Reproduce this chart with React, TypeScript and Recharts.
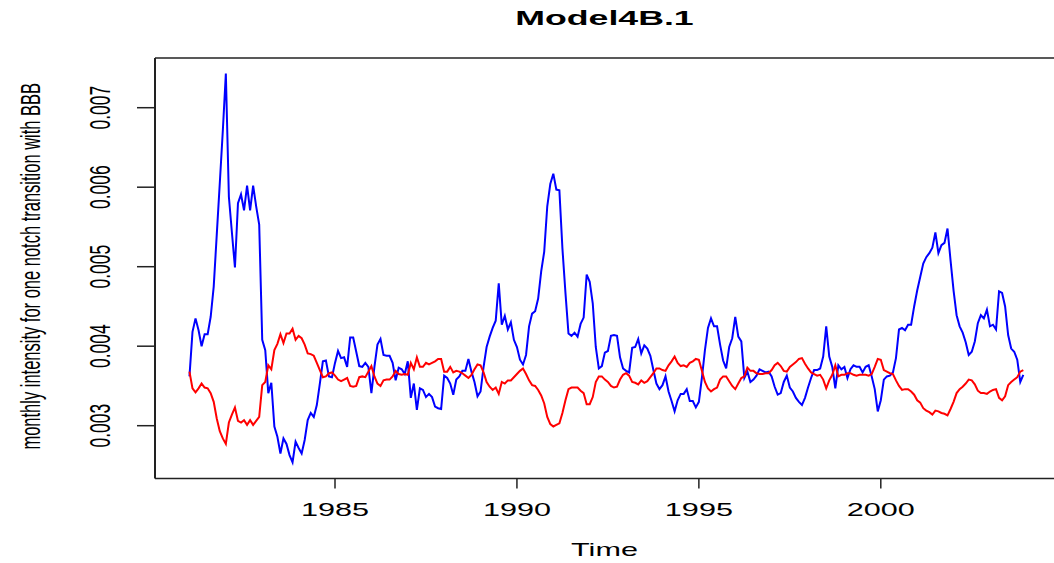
import React from "react";
import { LineChart, Line, XAxis, YAxis, Label } from "recharts";

// Monthly series, Jan 1981 .. Dec 2003 (values in units of 0.001)
const startYear = 1981;
const blueSeries = [
  3.62, 4.18, 4.35, 4.20, 4.00, 4.15, 4.15, 4.37, 4.75, 5.40, 6.05, 6.71,
  7.43, 5.88, 5.43, 4.99, 5.80, 5.91, 5.71, 6.02, 5.71, 6.02, 5.76, 5.53,
  4.08, 3.95, 3.41, 3.54, 2.99, 2.86, 2.65, 2.84, 2.77, 2.63, 2.54, 2.80,
  2.72, 2.65, 2.82, 3.07, 3.16, 3.11, 3.26, 3.53, 3.81, 3.82, 3.62, 3.61,
  3.79, 3.94, 3.85, 3.86, 3.74, 4.11, 4.11, 3.93, 3.75, 3.74, 3.79, 3.74,
  3.41, 3.74, 4.02, 4.09, 3.89, 3.88, 3.88, 3.79, 3.57, 3.73, 3.71, 3.65,
  3.81, 3.35, 3.53, 3.20, 3.47, 3.45, 3.36, 3.40, 3.36, 3.24, 3.22, 3.21,
  3.63, 3.60, 3.53, 3.39, 3.58, 3.62, 3.69, 3.69, 3.84, 3.68, 3.55, 3.37,
  3.43, 3.74, 3.99, 4.12, 4.23, 4.32, 4.79, 4.27, 4.38, 4.21, 4.30, 4.08,
  3.99, 3.83, 3.77, 3.89, 4.25, 4.41, 4.44, 4.60, 4.94, 5.19, 5.76, 6.04,
  6.17, 5.97, 5.96, 5.23, 4.67, 4.16, 4.13, 4.17, 4.12, 4.28, 4.36, 4.90,
  4.81, 4.54, 3.99, 3.72, 3.75, 3.92, 3.94, 4.13, 4.14, 4.13, 3.86, 3.72,
  3.69, 3.67, 3.98, 3.99, 4.09, 3.91, 4.01, 3.97, 3.88, 3.70, 3.53, 3.46,
  3.51, 3.62, 3.43, 3.31, 3.18, 3.32, 3.40, 3.40, 3.46, 3.31, 3.31, 3.23,
  3.30, 3.60, 3.95, 4.23, 4.35, 4.25, 4.25, 4.02, 3.82, 3.72, 3.99, 4.10,
  4.37, 4.12, 4.06, 3.60, 3.68, 3.55, 3.58, 3.63, 3.71, 3.69, 3.67, 3.68,
  3.62, 3.49, 3.39, 3.41, 3.55, 3.63, 3.48, 3.43, 3.35, 3.30, 3.26, 3.35,
  3.48, 3.60, 3.70, 3.70, 3.72, 3.87, 4.25, 3.87, 3.74, 3.47, 3.76, 3.71,
  3.74, 3.60, 3.71, 3.76, 3.74, 3.74, 3.67, 3.74, 3.76, 3.62, 3.46, 3.18,
  3.32, 3.58, 3.62, 3.63, 3.67, 3.85, 4.21, 4.23, 4.20, 4.27, 4.27, 4.50,
  4.70, 4.87, 5.04, 5.12, 5.17, 5.24, 5.43, 5.17, 5.27, 5.30, 5.48, 5.08,
  4.70, 4.39, 4.25, 4.17, 4.05, 3.89, 3.93, 4.06, 4.29, 4.39, 4.35, 4.46,
  4.25, 4.27, 4.21, 4.69, 4.67, 4.50, 4.14, 3.97, 3.93, 3.83, 3.55, 3.64,
];
const redSeries = [
  3.68, 3.47, 3.42, 3.47, 3.53, 3.48, 3.47, 3.41, 3.30, 3.09, 2.93, 2.84,
  2.77, 3.04, 3.14, 3.23, 3.06, 3.04, 3.07, 3.01, 3.07, 3.01, 3.06, 3.11,
  3.51, 3.55, 3.76, 3.71, 3.95, 4.03, 4.15, 4.04, 4.16, 4.16, 4.22, 4.08,
  4.13, 4.10, 4.02, 3.91, 3.90, 3.88, 3.79, 3.70, 3.61, 3.62, 3.66, 3.67,
  3.63, 3.58, 3.56, 3.58, 3.60, 3.50, 3.49, 3.50, 3.61, 3.62, 3.61, 3.68,
  3.75, 3.62, 3.53, 3.50, 3.57, 3.58, 3.58, 3.62, 3.69, 3.65, 3.64, 3.65,
  3.64, 3.79, 3.71, 3.86, 3.74, 3.74, 3.79, 3.77, 3.79, 3.81, 3.84, 3.84,
  3.68, 3.68, 3.74, 3.67, 3.69, 3.68, 3.66, 3.63, 3.60, 3.64, 3.71, 3.77,
  3.76, 3.67, 3.55, 3.49, 3.45, 3.48, 3.40, 3.55, 3.53, 3.57, 3.57, 3.61,
  3.65, 3.69, 3.72, 3.65, 3.57, 3.51, 3.50, 3.45, 3.38, 3.28, 3.11, 3.02,
  2.99, 3.01, 3.03, 3.16, 3.32, 3.46, 3.48, 3.48, 3.48, 3.44, 3.41, 3.27,
  3.27, 3.36, 3.55, 3.62, 3.62, 3.58, 3.55, 3.50, 3.48, 3.49, 3.58, 3.64,
  3.66, 3.63, 3.55, 3.54, 3.52, 3.57, 3.54, 3.56, 3.61, 3.66, 3.72, 3.72,
  3.70, 3.69, 3.76, 3.81, 3.87, 3.79, 3.75, 3.76, 3.74, 3.79, 3.81, 3.84,
  3.83, 3.69, 3.55, 3.47, 3.43, 3.46, 3.48, 3.58, 3.62, 3.62, 3.56, 3.50,
  3.46, 3.53, 3.60, 3.62, 3.73, 3.69, 3.69, 3.66, 3.65, 3.65, 3.66, 3.66,
  3.70, 3.76, 3.79, 3.75, 3.69, 3.68, 3.74, 3.77, 3.80, 3.84, 3.85, 3.78,
  3.72, 3.67, 3.65, 3.63, 3.64, 3.58, 3.47, 3.57, 3.64, 3.76, 3.62, 3.64,
  3.64, 3.66, 3.66, 3.64, 3.63, 3.64, 3.64, 3.64, 3.63, 3.65, 3.74, 3.84,
  3.83, 3.70, 3.68, 3.66, 3.65, 3.57, 3.50, 3.45, 3.46, 3.46, 3.43, 3.39,
  3.32, 3.29, 3.22, 3.19, 3.17, 3.14, 3.19, 3.18, 3.16, 3.15, 3.13, 3.21,
  3.30, 3.41, 3.46, 3.49, 3.53, 3.58, 3.57, 3.52, 3.44, 3.41, 3.41, 3.40,
  3.43, 3.45, 3.46, 3.35, 3.32, 3.37, 3.51, 3.55, 3.58, 3.61, 3.68, 3.70,
];
const xTicks = [1985, 1990, 1995, 2000];
const yTicks = [0.003, 0.004, 0.005, 0.006, 0.007];

const rows = blueSeries.map((b, i) => ({
  t: startYear + i / 12,
  blue: b / 1000,
  red: redSeries[i] / 1000,
}));

const FONT = "'Liberation Sans', Arial, Helvetica, sans-serif";
const SX = 1.7;
const AXIS = "#222";

const XTick = (props: any) => {
  const { x, y, payload } = props;
  return (
    <text
      transform={`translate(${x},${y + 25.5}) scale(${SX},1)`}
      textAnchor="middle"
      fontSize={18}
      fontFamily={FONT}
      fill="#000"
    >
      {String(payload.value)}
    </text>
  );
};

const YTick = (props: any) => {
  const { x, y, payload } = props;
  return (
    <text
      transform={`translate(${x - 25},${y}) scale(${SX},1) rotate(-90)`}
      textAnchor="middle"
      fontSize={17.5}
      fontFamily={FONT}
      fill="#000"
    >
      {String(payload.value)}
    </text>
  );
};

const YTitle = (props: any) => {
  const vb = props.viewBox || {};
  const cx = (vb.x || 0) + 40;
  const cy = (vb.y || 0) + (vb.height || 0) / 2 - 2;
  return (
    <text
      transform={`translate(${cx},${cy}) scale(${SX},1) rotate(-90)`}
      textAnchor="middle"
      fontSize={16.5}
      fontFamily={FONT}
      fill="#000"
    >
      monthly intensity for one notch transition with BBB
    </text>
  );
};

const XTitle = (props: any) => {
  const vb = props.viewBox || {};
  const cx = (vb.x || 0) + (vb.width || 0) / 2;
  const cy = (vb.y || 0) + 77.5;
  return (
    <text
      transform={`translate(${cx},${cy}) scale(${SX},1)`}
      textAnchor="middle"
      fontSize={18}
      fontFamily={FONT}
      fill="#000"
    >
      Time
    </text>
  );
};

const MainTitle = (props: any) => {
  const vb = props.viewBox || {};
  const cx = (vb.x || 0) + (vb.width || 0) / 2;
  const cy = 25;
  return (
    <text
      transform={`translate(${cx},${cy}) scale(${SX},1)`}
      textAnchor="middle"
      fontSize={21}
      fontWeight="bold"
      fontFamily={FONT}
      fill="#000"
    >
      Model4B.1
    </text>
  );
};

export default function App() {
  return (
    <div
      style={{
        position: "absolute",
        left: 0,
        top: 0,
        width: 1054,
        height: 563,
        overflow: "hidden",
        background: "#fff",
      }}
    >
      <LineChart
        width={1054}
        height={563}
        data={rows}
        margin={{ top: 57, right: 0, bottom: 0, left: 0 }}
      >
        <XAxis
          dataKey="t"
          type="number"
          domain={[1980.053, 2004.76]}
          allowDataOverflow
          ticks={xTicks}
          interval={0}
          height={84.5}
          tickSize={10}
          tickMargin={2}
          axisLine={{ stroke: AXIS, strokeWidth: 1.5 }}
          tickLine={{ stroke: AXIS, strokeWidth: 1.5 }}
          tick={<XTick />}
        >
          <Label content={<XTitle />} />
        </XAxis>
        <XAxis
          xAxisId="top"
          orientation="top"
          dataKey="t"
          type="number"
          domain={[1980.053, 2004.76]}
          allowDataOverflow
          height={1}
          tick={false}
          tickLine={false}
          axisLine={{ stroke: AXIS, strokeWidth: 1.5 }}
        >
          <Label content={<MainTitle />} />
        </XAxis>
        <YAxis
          type="number"
          domain={[0.0023358, 0.0076252]}
          allowDataOverflow
          ticks={yTicks}
          interval={0}
          width={155}
          tickSize={18}
          tickMargin={2}
          axisLine={{ stroke: AXIS, strokeWidth: 2 }}
          tickLine={{ stroke: AXIS, strokeWidth: 1.5 }}
          tick={<YTick />}
        >
          <Label content={<YTitle />} />
        </YAxis>
        <Line
          type="linear"
          dataKey="blue"
          stroke="#0000FF"
          strokeWidth={2}
          dot={false}
          isAnimationActive={false}
        />
        <Line
          type="linear"
          dataKey="red"
          stroke="#FF0000"
          strokeWidth={2}
          dot={false}
          isAnimationActive={false}
        />
      </LineChart>
    </div>
  );
}
